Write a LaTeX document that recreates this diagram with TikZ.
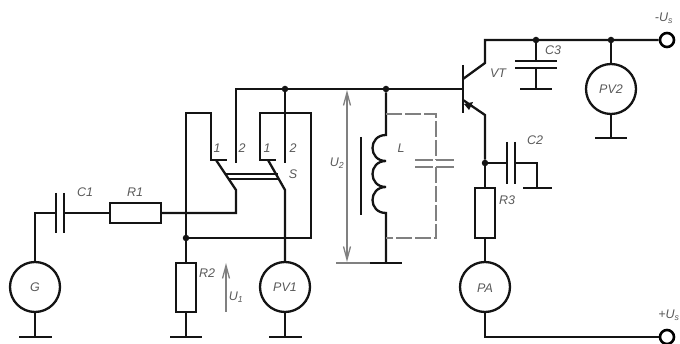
\documentclass[tikz,border=0pt]{standalone}
\usepackage{fontspec}
\setmainfont{Liberation Sans}
\usetikzlibrary{arrows.meta}
\usetikzlibrary{positioning}
\definecolor{dimgray}{gray}{0.5}
\definecolor{labelgray}{gray}{0.35}
\definecolor{inkblack}{gray}{0.08}
\tikzset{
	wire/.style={line width=2.3pt, line join=miter, draw=inkblack},
	thinwire/.style={line width=1.3pt, draw=dimgray},
	dashwire/.style={line width=1.3pt, draw=dimgray, dash pattern=on 16pt off 3pt},
	meter/.style={draw=inkblack, line width=2.3pt, circle, minimum size=50pt, inner sep=0pt, fill=white},
	resistor/.style={draw=inkblack, line width=2.3pt, rectangle, inner sep=0pt, fill=white},
	terminal/.style={draw=black, line width=2.6pt, circle, minimum size=14pt, inner sep=0pt, fill=white},
	dot/.style={circle, fill=inkblack, minimum size=6.5pt, inner sep=0pt},
	lbl/.style={font=\itshape\fontsize{12.5}{13}\selectfont, text=labelgray, inner sep=0pt},
}
\begin{document}
\begin{tikzpicture}[x=1pt,y=-1pt]
	\useasboundingbox (0,0) rectangle (680,344);
	% meters and resistors
	\node[meter] (G) at (35,287) {};
	\node[meter] (PV1) at (285,287) {};
	\node[meter] (PA) at (485,287) {};
	\node[meter] (PV2) at (611,89) {};
	\node[resistor, minimum width=51pt, minimum height=20pt] (R1) at (135.5,213) {};
	\node[resistor, minimum width=20pt, minimum height=49pt] (R2) at (186,287.5) {};
	\node[resistor, minimum width=20pt, minimum height=50pt] (R3) at (485,213) {};
	\node[terminal] (Tplus) at (667,40) {};
	\node[terminal] (Tminus) at (667,337) {};
	% junctions
	\node[dot] (J1) at (285,89) {};
	\node[dot] (J2) at (386,89) {};
	\node[dot] (J3) at (186,238) {};
	\node[dot] (J4) at (536,40) {};
	\node[dot] (J5) at (611,40) {};
	\node[dot] (J6) at (485,163) {};
	% generator branch
	\draw[wire] (G.north) |- (56,213);
	\draw[wire] (56,193) -- (56,233);
	\draw[wire] (64,193) -- (64,233);
	\draw[wire] (64,213) -- (R1.west);
	\draw[wire] (R1.east) -- (236,213) -- (236,190) -- (216,160);
	\draw[wire] (J3) -- (R2.north);
	\draw[wire] (J3) -- (186,113) -- (211,113) -- (211,160) -- (227,160);
	% switch
	\draw[wire] (J3) -- (311,238) -- (311,113) -- (260,113) -- (260,160) -- (276,160);
	\draw[wire] (PV1.north) -- (285,190) -- (268,160);
	\draw[wire] (236,163) -- (236,89) -- (J2);
	\draw[wire] (J1) -- (285,163);
	\draw[line width=1.8pt, draw=inkblack] (225,174) -- (278,174);
	\draw[line width=1.8pt, draw=inkblack] (228,179) -- (279,179);
	% grounds
	\draw[wire] (G.south) -- (35,337) (19,337) -- (52,337);
	\draw[wire] (R2.south) -- (186,337) (170,337) -- (202,337);
	\draw[wire] (PV1.south) -- (285,337) (269,337) -- (302,337);
	% inductor
	\draw[wire] (J2) -- (386,135)
		.. controls (368,135) and (368,161) .. (386,161)
		.. controls (368,161) and (368,187) .. (386,187)
		.. controls (368,187) and (368,213) .. (386,213) -- (386,263);
	\draw[wire] (370,263) -- (402,263);
	\draw[wire] (361,137) -- (361,215);
	\draw[dashwire] (386,114) -- (436,114) -- (436,160);
	\draw[dashwire] (436,167) -- (436,238) -- (386,238);
	\draw[thinwire, dash pattern=on 18pt off 3pt] (415,160) -- (457,160);
	\draw[thinwire, dash pattern=on 18pt off 3pt] (415,167) -- (457,167);
	% voltage arrows
	\draw[thinwire, {Straight Barb[length=13pt,width=7pt]}-{Straight Barb[length=13pt,width=7pt]}] (347,90) -- (347,262);
	\draw[thinwire] (336,263) -- (370,263);
	\draw[thinwire, -{Straight Barb[length=13pt,width=7pt]}] (226,312) -- (226,263);
	% transistor
	\draw[wire] (J2) -- (463,89);
	\draw[line width=2.8pt, draw=inkblack] (463,65) -- (463,113);
	\draw[wire] (463,79) -- (485,63) -- (485,40) -- (Tplus.west);
	\draw[wire] (463,100) -- (485,115) -- (J6);
	\fill[inkblack] (464,104) -- (473,102) -- (469,110) -- cycle;
	\draw[wire] (J6) -- (R3.north);
	\draw[wire] (R3.south) -- (PA.north);
	\draw[wire] (PA.south) |- (Tminus.west);
	% capacitors on the right
	\draw[wire] (J6) -- (507,163);
	\draw[wire] (507,142) -- (507,184);
	\draw[wire] (515,142) -- (515,184);
	\draw[wire] (515,163) -- (537,163) -- (537,188);
	\draw[wire] (523,188) -- (552,188);
	\draw[wire] (J4) -- (536,61);
	\draw[wire] (515,61) -- (557,61);
	\draw[wire] (515,68) -- (557,68);
	\draw[wire] (536,68) -- (536,89);
	\draw[wire] (520,89) -- (552,89);
	\draw[wire] (J5) -- (PV2.north);
	\draw[wire] (PV2.south) -- (611,138);
	\draw[wire] (595,138) -- (627,138);
	% labels
	\node[lbl] (lG) at (35,287) {G};
	\node[lbl] (lPV1) at (285,287) {PV1};
	\node[lbl] (lPA) at (485,288) {PA};
	\node[lbl] (lPV2) at (611,89) {PV2};
	\node[lbl] (lC1) at (85,192) {C1};
	\node[lbl] (lR1) at (135,192) {R1};
	\node[lbl] (lR2) at (207,273) {R2};
	\node[lbl] (lR3) at (507,200) {R3};
	\node[lbl] (lC2) at (535,140) {C2};
	\node[lbl] (lC3) at (553,50) {C3};
	\node[lbl] (lVT) at (498,73) {VT};
	\node[lbl] (lL) at (401,148) {L};
	\node[lbl] (lS) at (293,174) {S};
	\node[lbl] (lA) at (217,148) {1};
	\node[lbl] (lB) at (242,148) {2};
	\node[lbl] (lC) at (267,148) {1};
	\node[lbl] (lD) at (293,148) {2};
	\node[lbl] (lU1) at (236,297) {U\textsubscript{1}};
	\node[lbl] (lU2) at (337,163) {U\textsubscript{2}};
	\node[lbl] (lUa) at (664,18) {-U\textsubscript{s}};
	\node[lbl] (lUb) at (669,315) {+U\textsubscript{s}};
\end{tikzpicture}
\end{document}
